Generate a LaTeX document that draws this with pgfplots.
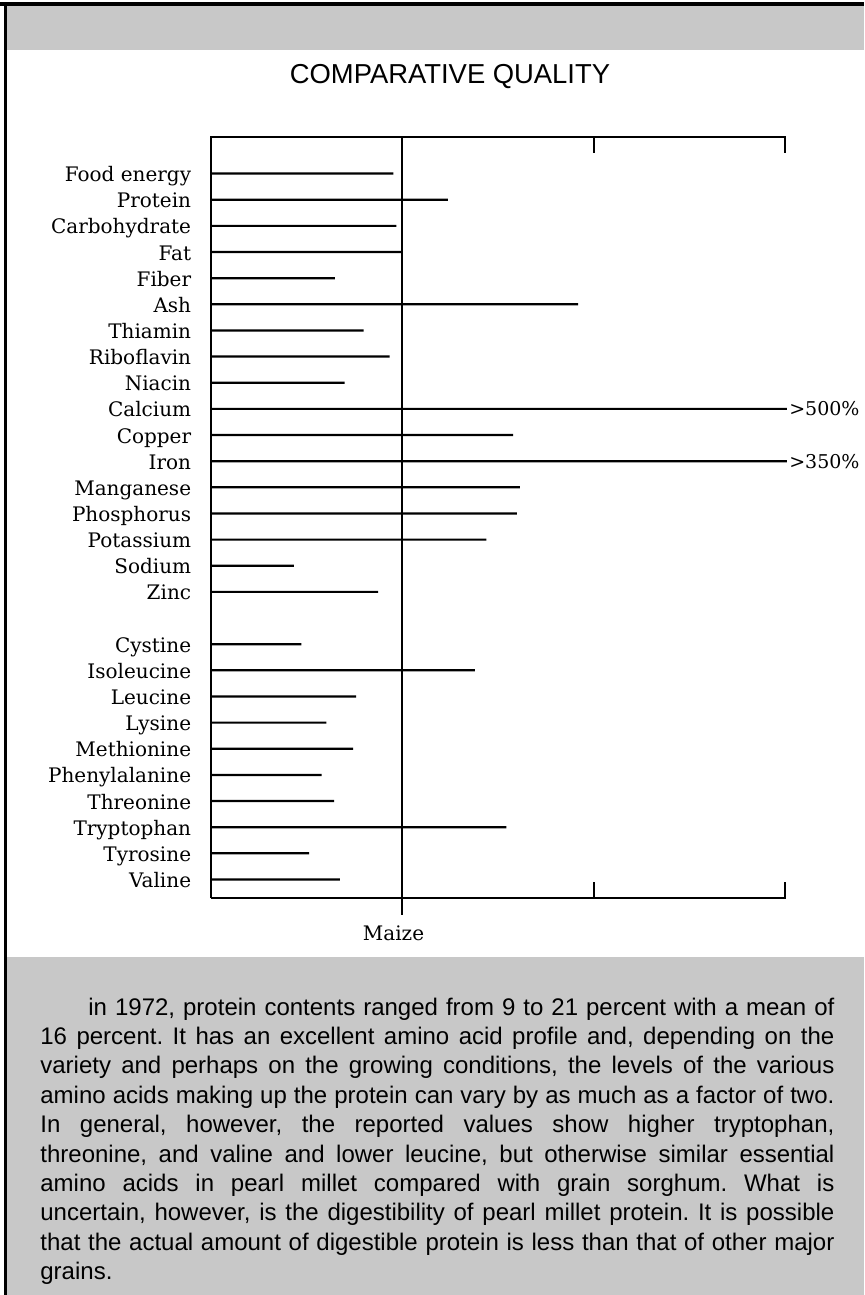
\documentclass[border=0pt]{standalone}
\usepackage{fontspec}
\setmainfont{Liberation Sans}
\newfontfamily\serif{DejaVu Serif}
\usepackage{pgfplots}
\pgfplotsset{compat=1.18}
\definecolor{panel}{RGB}{200,200,200}

\begin{document}
\frenchspacing
\begin{tikzpicture}
% page laid out in pixel units, origin top left
\begin{scope}[x=0.5pt,y=-0.5pt]
  \fill[white] (0,0) rectangle (864,1295);
  \fill[panel] (7,6) rectangle (864,50);
  \fill[panel] (7,957) rectangle (864,1295);
  \fill[black] (0,2.5) rectangle (864,6);
  \fill[black] (4,2.5) rectangle (7,1295);
  \node[font=\fontsize{13.7}{16}\selectfont, anchor=base] at (450,84) {COMPARATIVE QUALITY};
  % text below the chart
  \begin{scope}[every node/.style={anchor=base west, inner sep=0pt, font=\fontsize{12}{14}\selectfont}]
    \node at (88,1015)    {\makebox[373pt][s]{in 1972, protein contents ranged from 9 to 21 percent with a mean of}};
    \node at (40,1044.4)  {\makebox[397pt][s]{16 percent. It has an excellent amino acid profile and, depending on the}};
    \node at (40,1073.8)  {\makebox[397pt][s]{variety and perhaps on the growing conditions, the levels of the various}};
    \node at (40,1103.2)  {\makebox[397pt][s]{amino acids making up the protein can vary by as much as a factor of two.}};
    \node at (40,1132.6)  {\makebox[397pt][s]{In general, however, the reported values show higher tryptophan,}};
    \node at (40,1162)    {\makebox[397pt][s]{threonine, and valine and lower leucine, but otherwise similar essential}};
    \node at (40,1191.4)  {\makebox[397pt][s]{amino acids in pearl millet compared with grain sorghum. What is}};
    \node at (40,1220.8)  {\makebox[397pt][s]{uncertain, however, is the digestibility of pearl millet protein. It is possible}};
    \node at (40,1250.2)  {\makebox[397pt][s]{that the actual amount of digestible protein is less than that of other major}};
    \node at (40,1279.6)  {grains.};
  \end{scope}
\end{scope}

\begin{axis}[
    at={(105.25pt,-448.75pt)}, anchor=south west,
    scale only axis,
    width=287.25pt, height=380.4pt,
    xmin=0, xmax=300,
    ymin=-1.41, ymax=27.69,
    y dir=reverse,
    axis line style={draw=none},
    xtick=\empty,
    ytick={0,1,2,3,4,5,6,7,8,9,10,11,12,13,14,15,16,18,19,20,21,22,23,24,25,26,27},
    yticklabels={Food energy,Protein,Carbohydrate,Fat,Fiber,Ash,Thiamin,Riboflavin,Niacin,
                 Calcium,Copper,Iron,Manganese,Phosphorus,Potassium,Sodium,Zinc,
                 Cystine,Isoleucine,Leucine,Lysine,Methionine,Phenylalanine,Threonine,
                 Tryptophan,Tyrosine,Valine},
    ytick style={draw=none},
    yticklabel style={font=\serif\fontsize{10}{12}\selectfont, anchor=base east,
                      inner sep=0pt, xshift=-9.5pt, yshift=-4pt},
    clip=false,
]

% nutrient level relative to maize (maize = 100)
\addplot[xbar, bar shift=0pt, bar width=1.1pt, fill=black, draw=none] coordinates {
    (95.5,0) (124,1) (97,2) (100.5,3) (65,4) (192,5) (80,6) (93.5,7) (70,8)
    (158,10) (161.5,12) (160,13) (144,14) (43.5,15) (87.5,16)
    (47.5,18) (138,19) (76,20) (60.5,21) (74.5,22) (58,23) (64.5,24)
    (154.5,25) (51.5,26) (67.5,27)
};

% values beyond the scale
\addplot[xbar, bar shift=0pt, bar width=1.1pt, fill=black, draw=none,
    point meta=explicit symbolic, nodes near coords,
    nodes near coords style={anchor=west, inner sep=1pt,
                             font=\serif\fontsize{9.5}{11}\selectfont}] coordinates {
    (301,9) [\textgreater 500\%]
    (301,11) [\textgreater 350\%]
};

% frame
\draw[line width=1pt] (axis cs:0,27.69) -- (axis cs:0,-1.41) -- (axis cs:300,-1.41) -- ++(0pt,-8pt);
\draw[line width=1pt] (axis cs:200,-1.41) -- ++(0pt,-8pt);
\draw[line width=1pt] (axis cs:0,27.69) -- (axis cs:300,27.69) -- ++(0pt,8pt);
\draw[line width=1pt] (axis cs:200,27.69) -- ++(0pt,8pt);
\draw[line width=1pt] (axis cs:100,-1.41) -- (axis cs:100,27.69) -- ++(0pt,-8.5pt);
\node[font=\serif\fontsize{10}{12}\selectfont, anchor=base]
    at ([xshift=-4.25pt,yshift=-21.25pt]axis cs:100,27.69) {Maize};
\end{axis}

\pgfresetboundingbox
\useasboundingbox (0,0) rectangle (432pt,-647.5pt);
\end{tikzpicture}
\end{document}
